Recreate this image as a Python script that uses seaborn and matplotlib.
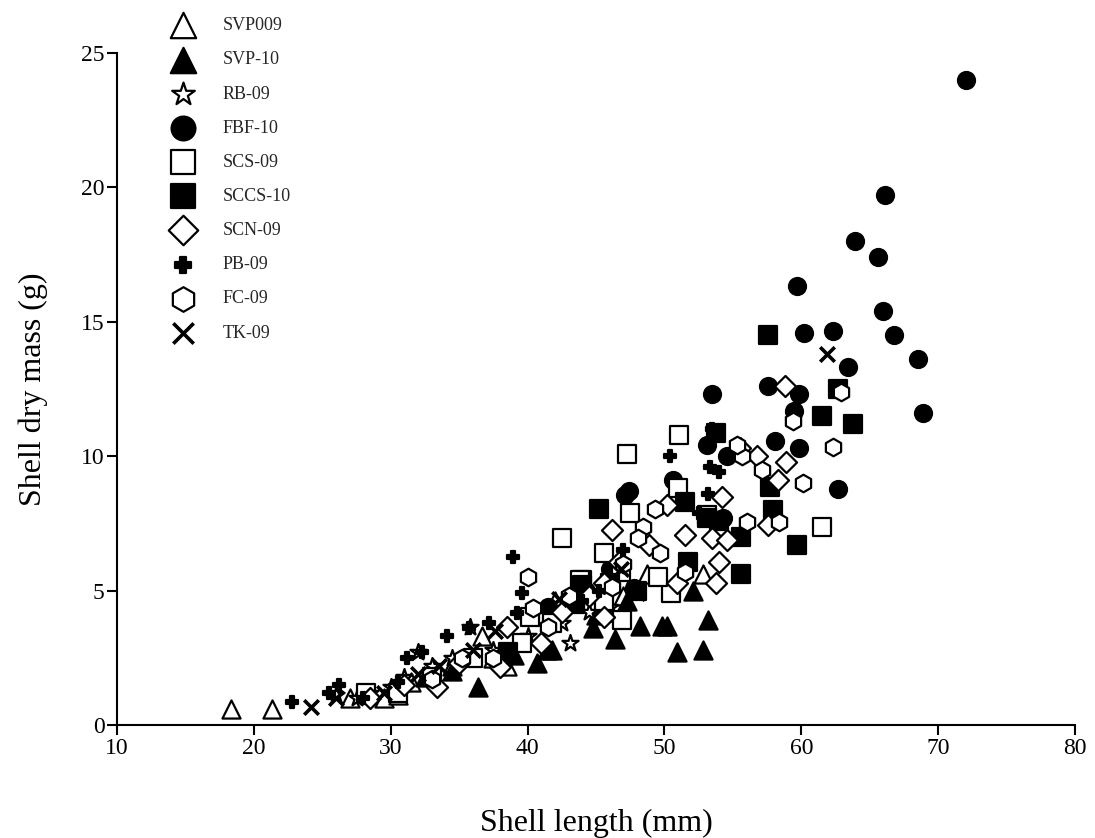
import matplotlib
matplotlib.use("Agg")
import matplotlib.pyplot as plt
import seaborn as sns
import pandas as pd

# ---- data (shell length mm, shell dry mass g) ----
svp009_x = [18.3, 21.3, 27.0, 29.5, 30.5, 31.5, 33.0, 34.5, 36.7, 37.5, 38.5, 42.0, 44.0, 45.5, 47.0, 48.7, 52.8]
svp009_y = [0.6, 0.6, 1.0, 1.0, 1.1, 1.6, 2.0, 2.2, 3.3, 2.5, 2.2, 4.6, 5.0, 4.2, 4.8, 5.6, 5.6]

svp10_x = [32.5, 34.5, 36.4, 39.0, 40.7, 41.4, 41.8, 44.8, 45.0, 46.4, 47.3, 48.2, 49.8, 50.2, 50.9, 52.1, 52.8, 53.2]
svp10_y = [1.8, 2.0, 1.4, 2.6, 2.3, 2.8, 2.8, 3.6, 4.1, 3.2, 4.6, 3.7, 3.7, 3.7, 2.7, 5.0, 2.8, 3.9]

rb09_x = [26.0, 27.5, 28.5, 30.0, 31.0, 32.0, 33.0, 34.5, 35.8, 37.5, 38.0, 40.0, 42.5, 43.1, 44.5, 46.0]
rb09_y = [1.1, 1.0, 1.2, 1.4, 1.8, 2.7, 2.2, 2.5, 3.65, 2.8, 2.4, 3.3, 3.8, 3.05, 4.2, 4.4]

fbf10_x = [72.0, 66.1, 63.9, 65.6, 59.7, 66.0, 60.2, 62.3, 66.8, 63.4, 68.5, 57.6, 59.8, 53.5, 59.5,
           68.9, 58.1, 59.8, 62.7, 53.1, 54.6, 50.6, 47.1, 47.4, 54.3, 44.3, 47.8, 41.5, 46.0]
fbf10_y = [24.0, 19.7, 18.0, 17.4, 16.35, 15.4, 14.6, 14.65, 14.5, 13.3, 13.6, 12.6, 12.3, 12.3, 11.7,
           11.6, 10.55, 10.3, 8.77, 10.4, 10.0, 9.1, 8.55, 8.7, 7.7, 5.0, 5.1, 4.4, 5.8]

scs09_x = [51.1, 47.3, 51.0, 47.5, 42.5, 45.6, 44.0, 43.8, 50.5, 45.6, 46.9, 53.1, 61.5, 39.6, 36.0,
           28.2, 30.5, 33.0, 49.5, 46.8, 41.8, 40.2]
scs09_y = [10.8, 10.1, 8.8, 7.9, 6.95, 6.4, 5.4, 5.4, 4.9, 4.6, 3.9, 7.8, 7.35, 3.05, 2.5,
           1.2, 1.2, 1.8, 5.5, 5.7, 3.8, 4.0]

sccs10_x = [57.6, 62.7, 61.5, 63.8, 53.8, 45.2, 51.5, 53.1, 57.9, 57.7, 55.6, 59.7, 55.6, 51.7, 38.6,
            43.5, 48.0, 46.0, 44.0, 54.0]
sccs10_y = [14.5, 12.5, 11.5, 11.2, 10.85, 8.05, 8.3, 7.7, 8.0, 8.85, 7.0, 6.7, 5.6, 6.05, 2.7,
            4.5, 5.0, 5.3, 5.2, 7.6]

scn09_x = [58.8, 58.9, 58.3, 56.8, 57.6, 54.2, 53.5, 54.6, 54.0, 53.8, 50.2, 46.2, 48.9, 51.5, 46.7,
           45.6, 50.9, 45.6, 41.0, 38.5, 33.4, 38.0, 55.5, 42.5, 31.0, 35.0, 28.5, 44.5]
scn09_y = [12.6, 9.8, 9.1, 10.0, 7.45, 8.5, 6.95, 6.9, 6.05, 5.3, 8.2, 7.25, 6.7, 7.05, 6.05,
           5.3, 5.3, 4.0, 3.05, 3.65, 1.4, 2.15, 10.3, 4.2, 1.5, 2.3, 1.0, 4.8]

pb09_x = [22.8, 25.5, 26.2, 28.0, 30.5, 31.2, 32.3, 34.1, 35.7, 37.2, 38.9, 39.6, 39.2, 44.0, 45.2,
          47.0, 50.4, 53.5, 53.3, 54.0, 53.2, 52.5]
pb09_y = [0.86, 1.2, 1.5, 1.0, 1.6, 2.5, 2.7, 3.3, 3.6, 3.8, 6.25, 4.9, 4.15, 4.6, 5.0,
          6.5, 10.0, 11.0, 9.6, 9.4, 8.6, 7.9]

fc09_x = [62.9, 59.4, 62.3, 60.1, 57.1, 55.7, 58.4, 56.0, 49.3, 48.4, 48.1, 49.7, 51.5, 46.2, 40.0,
          40.4, 41.5, 35.2, 33.0, 47.0, 43.0, 37.5, 55.3]
fc09_y = [12.4, 11.3, 10.35, 9.0, 9.5, 10.0, 7.55, 7.55, 8.05, 7.35, 6.95, 6.4, 5.7, 5.15, 5.5,
          4.35, 3.65, 2.5, 1.7, 6.0, 4.8, 2.5, 10.4]

tk09_x = [61.9, 24.2, 26.0, 29.5, 32.0, 33.5, 36.0, 37.6, 42.3, 46.8, 48.0]
tk09_y = [13.8, 0.67, 1.0, 1.2, 1.9, 2.2, 2.8, 3.5, 4.7, 5.8, 4.9]

series_names = ["SVP009", "SVP-10", "RB-09", "FBF-10", "SCS-09", "SCCS-10", "SCN-09", "PB-09", "FC-09", "TK-09"]
series_x = [svp009_x, svp10_x, rb09_x, fbf10_x, scs09_x, sccs10_x, scn09_x, pb09_x, fc09_x, tk09_x]
series_y = [svp009_y, svp10_y, rb09_y, fbf10_y, scs09_y, sccs10_y, scn09_y, pb09_y, fc09_y, tk09_y]

# ---- styles: marker, size, face ----
styles = {
    "SVP009": dict(marker="^", s=170, facecolor="white"),
    "SVP-10": dict(marker="^", s=170, facecolor="black"),
    "RB-09": dict(marker="*", s=150, facecolor="white"),
    "FBF-10": dict(marker="o", s=150, facecolor="black"),
    "SCS-09": dict(marker="s", s=150, facecolor="white"),
    "SCCS-10": dict(marker="s", s=150, facecolor="black"),
    "SCN-09": dict(marker="D", s=115, facecolor="white"),
    "PB-09": dict(marker="P", s=70, facecolor="black"),
    "FC-09": dict(marker="h", s=160, facecolor="white"),
    "TK-09": dict(marker="x", s=110, facecolor="black"),
}

sns.set_theme(style="ticks")
plt.rcParams["font.family"] = ["Liberation Serif", "DejaVu Serif"]

fig = plt.figure(figsize=(10.95, 8.38), dpi=100)
ax = fig.add_axes([117 / 1095, 113 / 838, (1075 - 117) / 1095, (725 - 53) / 838])

for name, xs, ys in zip(series_names, series_x, series_y):
    st = styles[name]
    df = pd.DataFrame({"Shell length (mm)": xs, "Shell dry mass (g)": ys})
    if st["marker"] == "x":
        sns.scatterplot(data=df, x="Shell length (mm)", y="Shell dry mass (g)", ax=ax,
                        marker="x", s=st["s"], color="black", linewidth=2.6, label=name)
    else:
        sns.scatterplot(data=df, x="Shell length (mm)", y="Shell dry mass (g)", ax=ax,
                        marker=st["marker"], s=st["s"], color=st["facecolor"],
                        edgecolor="black", linewidth=1.6, label=name)

ax.set_xlim(10, 80)
ax.set_ylim(0, 25)
ax.set_xticks([10, 20, 30, 40, 50, 60, 70, 80])
ax.set_yticks([0, 5, 10, 15, 20, 25])
ax.tick_params(axis="both", direction="out", length=7, width=1.5, labelsize=17, colors="black", pad=2)
for side in ["top", "right"]:
    ax.spines[side].set_visible(False)
for side in ["left", "bottom"]:
    ax.spines[side].set_linewidth(1.5)
    ax.spines[side].set_color("black")

ax.set_xlabel("Shell length (mm)", fontsize=23, labelpad=36, color="black")
ax.set_ylabel("Shell dry mass (g)", fontsize=23, labelpad=24, color="black")

handles, labels = ax.get_legend_handles_labels()
ax.get_legend().remove()
fig.legend(handles, labels, loc="upper left", bbox_to_anchor=(158 / 1095, 1 - 10 / 838),
           frameon=False, fontsize=13, markerscale=1.4, labelspacing=0.95,
           handletextpad=1.2, borderaxespad=0)

fig.savefig("out.png", dpi=100)
